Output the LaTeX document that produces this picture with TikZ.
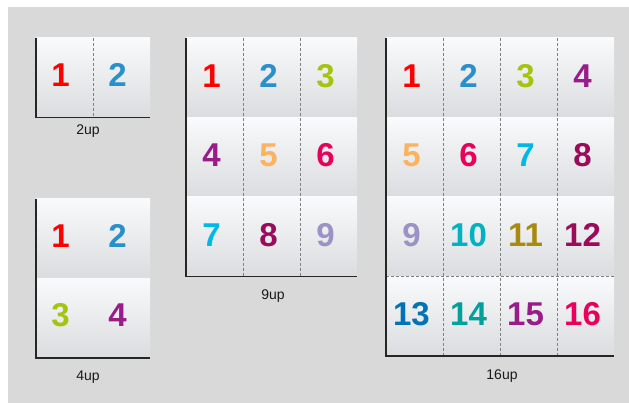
\documentclass[tikz,border=0pt]{standalone}
\usepackage{fontspec}
\setmainfont{Liberation Sans}
\definecolor{bg}{HTML}{D9D9D9}
\definecolor{pagetop}{HTML}{F8FAFB}
\definecolor{pagebot}{HTML}{DADCDF}
\definecolor{c1}{HTML}{FF0000}
\definecolor{c2}{HTML}{2A8FCD}
\definecolor{c3}{HTML}{A5C40F}
\definecolor{c4}{HTML}{9A1C8B}
\definecolor{c5}{HTML}{FDB25F}
\definecolor{c6}{HTML}{E8005B}
\definecolor{c7}{HTML}{00B8E6}
\definecolor{c8}{HTML}{9A0B5B}
\definecolor{c9}{HTML}{9C92C6}
\definecolor{c10}{HTML}{00B3C2}
\definecolor{c11}{HTML}{A88A12}
\definecolor{c12}{HTML}{9A0B5B}
\definecolor{c13}{HTML}{0072B7}
\definecolor{c14}{HTML}{00A19A}
\definecolor{c15}{HTML}{9A1C8B}
\definecolor{c16}{HTML}{E8005B}
\begin{document}
\begin{tikzpicture}[x=1pt,y=-1pt,
  cell/.style={minimum width=57pt,minimum height=79.5pt,inner sep=0pt,outer sep=0pt,
    shade,top color=pagetop,bottom color=pagebot},
  num/.style={inner sep=0pt,font=\bfseries\fontsize{33}{33}\selectfont},
  uplabel/.style={inner sep=0pt,font=\fontsize{14}{14}\selectfont,text=black!90},
  frameline/.style={draw=black!85,line width=1.5pt},
  divider/.style={draw=black!50,line width=1pt,dash pattern=on 3pt off 2pt}]
\useasboundingbox (0,0) rectangle (629,403);
\fill[white] (0,0) rectangle (629,403);
\fill[bg] (8,7) rectangle (629,403);
% 2up
\foreach \n in {1,2}{
  \pgfmathtruncatemacro\cc{\n-1}
  \node[cell] (tw\n) at (36+28.5+57*\cc, 38+39.75) {};
  \node[num,text=c\n] (twn\n) at ([shift={(-4pt,3pt)}]tw\n.center) {\n};
}
\draw[frameline] (tw1.north west) -- (tw1.south west) -- (tw2.south east);
\draw[divider] (tw1.north east) -- (tw1.south east);
\node[uplabel] (l2) at (88,131) {2up};
% 4up
\foreach \n in {1,...,4}{
  \pgfmathtruncatemacro\r{(\n-1)/2}
  \pgfmathtruncatemacro\cc{mod(\n-1,2)}
  \node[cell] (fo\n) at (36+28.5+57*\cc, 199+39.75+79.5*\r) {};
  \node[num,text=c\n] (fon\n) at ([shift={(-4pt,3pt)}]fo\n.center) {\n};
}
\draw[frameline] (fo1.north west) -- (fo3.south west) -- (fo4.south east);
\node[uplabel] (l4) at (88,377) {4up};
% 9up
\foreach \n in {1,...,9}{
  \pgfmathtruncatemacro\r{(\n-1)/3}
  \pgfmathtruncatemacro\cc{mod(\n-1,3)}
  \node[cell] (ni\n) at (186+28.5+57*\cc, 38+39.75+79.5*\r) {};
  \node[num,text=c\n] (nin\n) at ([shift={(-3pt,2pt)}]ni\n.center) {\n};
}
\draw[divider] (ni1.north east) -- (ni7.south east);
\draw[divider] (ni2.north east) -- (ni8.south east);
\draw[frameline] (ni1.north west) -- (ni7.south west) -- (ni9.south east);
\node[uplabel] (l9) at (273,296) {9up};
% 16up
\foreach \n in {1,...,16}{
  \pgfmathtruncatemacro\r{(\n-1)/4}
  \pgfmathtruncatemacro\cc{mod(\n-1,4)}
  \node[cell] (si\n) at (386+28.5+57*\cc, 38+39.75+79.5*\r) {};
  \node[num,text=c\n] (sin\n) at ([shift={(-3pt,2pt)}]si\n.center) {\n};
}
\draw[divider] (si1.north east) -- (si13.south east);
\draw[divider] (si2.north east) -- (si14.south east);
\draw[divider] (si3.north east) -- (si15.south east);
\draw[divider] (si9.south west) -- (si12.south east);
\draw[frameline] (si1.north west) -- (si13.south west) -- (si16.south east);
\node[uplabel] (l16) at (502,376) {16up};
\end{tikzpicture}
\end{document}
